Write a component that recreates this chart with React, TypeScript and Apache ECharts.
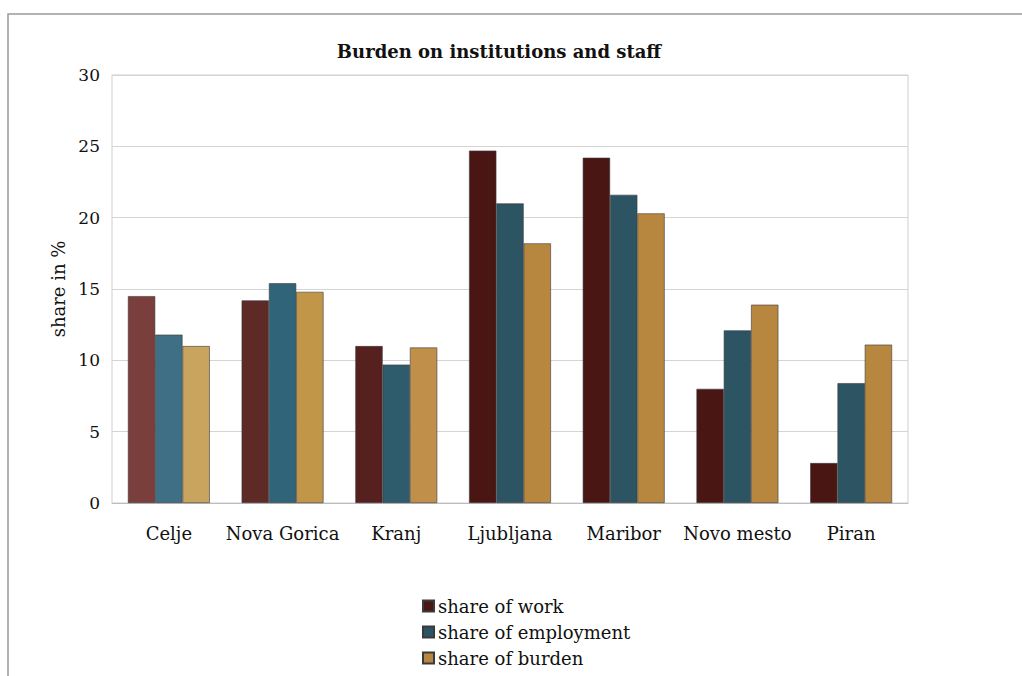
import React, { useEffect, useRef } from "react";
import * as echarts from "echarts";

const categories = ["Celje", "Nova Gorica", "Kranj", "Ljubljana", "Maribor", "Novo mesto", "Piran"];
const shareOfWork = [14.5, 14.2, 11.0, 24.7, 24.2, 8.0, 2.8];
const shareOfEmployment = [11.8, 15.4, 9.7, 21.0, 21.6, 12.1, 8.4];
const shareOfBurden = [11.0, 14.8, 10.9, 18.2, 20.3, 13.9, 11.1];
const seriesNames = ["share of work", "share of employment", "share of burden"];

const FONT = "'DejaVu Serif', 'Liberation Serif', serif";

// per-group colour tint (the print is lighter/speckled in the first groups)
const baseColors = ["#4a1614", "#2c5463", "#b8873f"];
const groupColors: Record<number, string[]> = {
  0: ["#7a3e3c", "#3f6f85", "#c9a45e"],
  1: ["#5e2a26", "#306579", "#c29648"],
  2: ["#56201e", "#2e5c6c", "#c0904a"],
};

export default function App() {
  const ref = useRef<HTMLDivElement>(null);
  useEffect(() => {
    if (!ref.current) return;
    const chart = echarts.init(ref.current, undefined, { renderer: "svg" });
    const data = [shareOfWork, shareOfEmployment, shareOfBurden];
    chart.setOption({
      animation: false,
      backgroundColor: "#ffffff",
      color: baseColors,
      title: {
        text: "Burden on institutions and staff",
        left: 494,
        top: 37,
        textAlign: "center",
        textStyle: { fontFamily: FONT, fontSize: 18, fontWeight: "bold", color: "#111" },
      },
      graphic: [
        {
          type: "rect",
          shape: { x: 8, y: 14, width: 1030, height: 680 },
          style: { fill: "none", stroke: "#9a9a9a", lineWidth: 1.5 },
          silent: true,
        },
        {
          type: "rect",
          shape: { x: 112, y: 75, width: 796, height: 428 },
          style: { fill: "none", stroke: "#cfcfcf", lineWidth: 1 },
          silent: true,
        },
      ],
      legend: {
        orient: "vertical",
        left: 417,
        top: 592,
        itemWidth: 11,
        itemHeight: 11,
        itemGap: 8,
        icon: "rect",
        data: seriesNames,
        textStyle: { fontFamily: FONT, fontSize: 18, color: "#111", padding: [0, 0, 0, -1] },
      },
      grid: { left: 112, right: 114, top: 75, bottom: 173, containLabel: false },
      xAxis: {
        type: "category",
        data: categories,
        axisLine: { show: true, lineStyle: { color: "#bdbdbd" } },
        axisTick: { show: false },
        axisLabel: { fontFamily: FONT, fontSize: 18, color: "#111", margin: 21, interval: 0 },
      },
      yAxis: {
        type: "value",
        min: 0,
        max: 30,
        interval: 5,
        name: "share in %",
        nameLocation: "middle",
        nameGap: 45,
        nameTextStyle: { fontFamily: FONT, fontSize: 18, color: "#111" },
        axisLine: { show: false },
        axisTick: { show: false },
        axisLabel: { fontFamily: FONT, fontSize: 17, color: "#111", margin: 12 },
        splitLine: { lineStyle: { color: "#d4d4d4" } },
      },
      series: data.map((d, i) => ({
        name: seriesNames[i],
        type: "bar",
        data: d.map((v, j) =>
          groupColors[j] ? { value: v, itemStyle: { color: groupColors[j][i] } } : v
        ),
        barGap: "0%",
        barCategoryGap: "28%",
        itemStyle: { color: baseColors[i], borderColor: "#3a3a3a", borderWidth: 0.6 },
      })),
    });
    return () => chart.dispose();
  }, []);
  return (
    <div
      ref={ref}
      style={{ position: "fixed", left: 0, top: 0, width: 1022, height: 676 }}
    />
  );
}
